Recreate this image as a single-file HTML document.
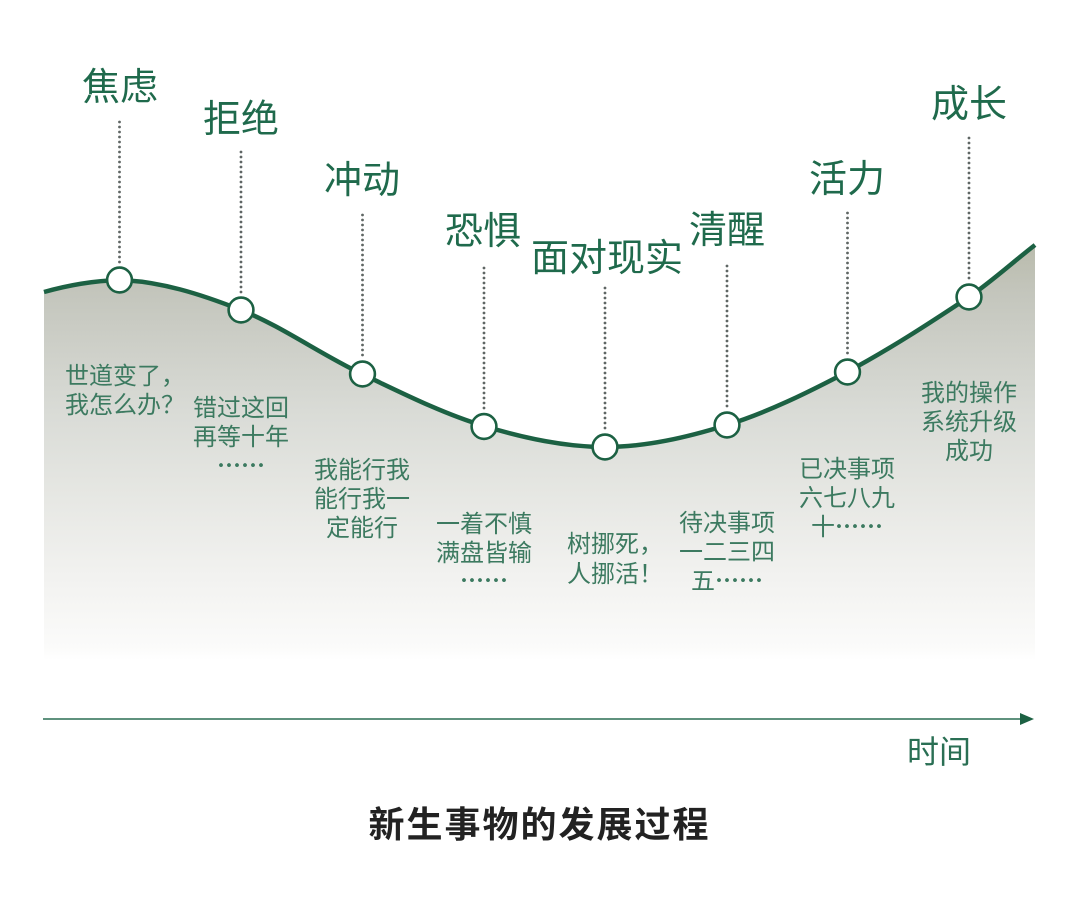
<!DOCTYPE html>
<html lang="zh">
<head>
<meta charset="utf-8">
<title>新生事物的发展过程</title>
<style>
html,body{margin:0;padding:0;background:#fff;width:1080px;height:911px;overflow:hidden}
svg{display:block}
text{font-family:"Liberation Sans","Noto Sans CJK SC",sans-serif;text-anchor:middle}
.big{font-size:38px;fill:#1f6a4c;font-weight:400}
.sm{font-size:24px;fill:#3c7a60}
.el{font-family:"Noto Sans CJK SC",sans-serif;font-weight:700}
.dot{stroke:#5f6664;stroke-width:2.8;stroke-linecap:round;stroke-dasharray:0 5;fill:none}
.node{fill:#fff;stroke:#1c6143;stroke-width:2.6}
</style>
</head>
<body>
<svg width="1080" height="911" viewBox="0 0 1080 911" xmlns="http://www.w3.org/2000/svg">
<defs>
<linearGradient id="g" gradientUnits="userSpaceOnUse" x1="0" y1="245" x2="0" y2="660">
<stop offset="0" stop-color="#b9bbac"/>
<stop offset="0.12" stop-color="#c4c6bd"/>
<stop offset="0.4" stop-color="#d9dbd6"/>
<stop offset="0.6" stop-color="#e6e7e3"/>
<stop offset="0.8" stop-color="#f2f2f0"/>
<stop offset="0.97" stop-color="#fbfbfa"/>
<stop offset="1" stop-color="#ffffff"/>
</linearGradient>
</defs>
<path d="M44,292C69,285 94,280.8 119,280C159.7,281 200.3,294 241,310C281.3,326 321.7,355 362,374C402.7,393.4 443.3,413.8 484,426C524.3,438.2 564.7,447 605,447C645.7,447 686.3,437.6 727,425C767,412.6 807,393 847,372C887.7,350.4 928.3,324 969,297C991,282 1013,262 1035,245L1035,660L44,660Z" fill="url(#g)"/>
<path d="M44,292C69,285 94,280.8 119,280C159.7,281 200.3,294 241,310C281.3,326 321.7,355 362,374C402.7,393.4 443.3,413.8 484,426C524.3,438.2 564.7,447 605,447C645.7,447 686.3,437.6 727,425C767,412.6 807,393 847,372C887.7,350.4 928.3,324 969,297C991,282 1013,262 1035,245" fill="none" stroke="#1c6143" stroke-width="4.5"/>

<line class="dot" x1="119.5" y1="122" x2="119.5" y2="263"/>
<line class="dot" x1="241" y1="152" x2="241" y2="293"/>
<line class="dot" x1="362.5" y1="215" x2="362.5" y2="356"/>
<line class="dot" x1="484" y1="268" x2="484" y2="409"/>
<line class="dot" x1="605" y1="288" x2="605" y2="429"/>
<line class="dot" x1="727" y1="266" x2="727" y2="407"/>
<line class="dot" x1="847.5" y1="213" x2="847.5" y2="354"/>
<line class="dot" x1="969" y1="138" x2="969" y2="279"/>

<circle class="node" cx="119.5" cy="280" r="12.4"/>
<circle class="node" cx="241" cy="310" r="12.4"/>
<circle class="node" cx="362.5" cy="374" r="12.4"/>
<circle class="node" cx="484" cy="426.5" r="12.4"/>
<circle class="node" cx="605" cy="447" r="12.4"/>
<circle class="node" cx="727" cy="425" r="12.4"/>
<circle class="node" cx="847.5" cy="372" r="12.4"/>
<circle class="node" cx="969" cy="297" r="12.4"/>

<text class="big" x="120" y="100">焦虑</text>
<text class="big" x="241" y="132">拒绝</text>
<text class="big" x="362" y="193">冲动</text>
<text class="big" x="483" y="244">恐惧</text>
<text class="big" x="607" y="271">面对现实</text>
<text class="big" x="727" y="243">清醒</text>
<text class="big" x="847" y="192">活力</text>
<text class="big" x="969" y="117">成长</text>

<text class="sm" x="125" y="384">世道变了，</text>
<text class="sm" x="125" y="413">我怎么办？</text>
<text class="sm" x="241" y="416">错过这回</text>
<text class="sm" x="241" y="445">再等十年</text>
<text class="sm el" x="241" y="474">……</text>
<text class="sm" x="362" y="478">我能行我</text>
<text class="sm" x="362" y="507">能行我一</text>
<text class="sm" x="362" y="536">定能行</text>
<text class="sm" x="484" y="532">一着不慎</text>
<text class="sm" x="484" y="561">满盘皆输</text>
<text class="sm el" x="484" y="589">……</text>
<text class="sm" x="615" y="552">树挪死，</text>
<text class="sm" x="615" y="582">人挪活！</text>
<text class="sm" x="727" y="531">待决事项</text>
<text class="sm" x="727" y="560">一二三四</text>
<text class="sm" x="727" y="589">五<tspan class="el">……</tspan></text>
<text class="sm" x="847" y="477">已决事项</text>
<text class="sm" x="847" y="506">六七八九</text>
<text class="sm" x="847" y="535">十<tspan class="el">……</tspan></text>
<text class="sm" x="969" y="401">我的操作</text>
<text class="sm" x="969" y="430">系统升级</text>
<text class="sm" x="969" y="459">成功</text>

<line x1="43" y1="719" x2="1024" y2="719" stroke="#2a6f54" stroke-width="1.6"/>
<polygon points="1020,713 1034,719 1020,725" fill="#1c6143"/>
<text x="939" y="763" style="font-size:32px;fill:#2a6f54">时间</text>
<text x="539.5" y="837" style="font-size:36px;font-weight:700;fill:#222;letter-spacing:2px">新生事物的发展过程</text>
</svg>
</body>
</html>
